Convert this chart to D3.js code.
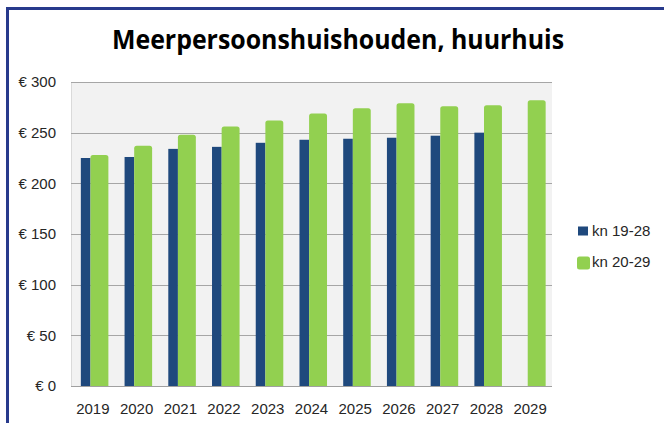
<!DOCTYPE html>
<html lang="nl">
<head>
    <meta charset="UTF-8">
    <title>Meerpersoonshuishouden, huurhuis</title>
    <script src="https://d3js.org/d3.v7.min.js"></script>
    <style>
        body { margin: 0; background: #fff; }
        svg { display: block; }
    </style>
</head>
<body>
    <div id="chart"></div>

    <script>
        const years = ["2019", "2020", "2021", "2022", "2023", "2024", "2025", "2026", "2027", "2028", "2029"];
        const kn1928 = [225, 226, 234, 236, 240, 243, 244, 245, 247, 250, null];
        const kn2029 = [228, 237, 248, 256, 262, 269, 274, 279, 276, 277, 282];
        const yTicks = [0, 50, 100, 150, 200, 250, 300];
        const seriesNames = ["kn 19-28", "kn 20-29"];

        const width = 664, height = 423;
        const plot = { left: 71, right: 552, top: 82, bottom: 386 };

        const svg = d3.select("#chart").append("svg")
            .attr("width", width)
            .attr("height", height)
            .style("font-family", "'Liberation Sans', Arial, sans-serif");

        // outer frame (left + top only visible)
        svg.append("path")
            .attr("d", `M7.5,${height} V8.5 H${width}`)
            .attr("fill", "none")
            .attr("stroke", "#283A8C")
            .attr("stroke-width", 3);

        svg.append("text")
            .attr("x", 338)
            .attr("y", 49)
            .attr("text-anchor", "middle")
            .attr("textLength", 452)
            .attr("lengthAdjust", "spacingAndGlyphs")
            .style("font-family", "'Open Sans', sans-serif")
            .style("font-weight", "bold")
            .style("font-size", "26px")
            .attr("fill", "#000")
            .text("Meerpersoonshuishouden, huurhuis");

        const x = d3.scaleBand()
            .domain(years)
            .range([plot.left, plot.right])
            .padding(0);

        const y = d3.scaleLinear()
            .domain([0, 300])
            .range([plot.bottom, plot.top]);

        svg.append("rect")
            .attr("x", plot.left)
            .attr("y", plot.top)
            .attr("width", plot.right - plot.left)
            .attr("height", plot.bottom - plot.top)
            .attr("fill", "#F2F2F2");

        svg.append("line")
            .attr("x1", plot.left + 0.5).attr("x2", plot.left + 0.5)
            .attr("y1", plot.top).attr("y2", plot.bottom)
            .attr("stroke", "#DADADA");

        // gridlines
        svg.append("g")
            .selectAll("line")
            .data(yTicks.filter(d => d > 0))
            .join("line")
            .attr("x1", plot.left)
            .attr("x2", plot.right)
            .attr("y1", d => Math.round(y(d)) + 0.5)
            .attr("y2", d => Math.round(y(d)) + 0.5)
            .attr("stroke", "#A6A6A6");

        const bw = x.bandwidth();

        // dark bars
        svg.append("g")
            .selectAll("rect")
            .data(years.map((yr, i) => ({ yr, v: kn1928[i] })).filter(d => d.v != null))
            .join("rect")
            .attr("x", d => x(d.yr) + bw * 0.225)
            .attr("width", bw * 0.22)
            .attr("y", d => y(d.v))
            .attr("height", d => y(0) - y(d.v))
            .attr("fill", "#1F497D");

        // green bars, slightly rounded top
        const r = 2.5;
        svg.append("g")
            .selectAll("path")
            .data(years.map((yr, i) => ({ yr, v: kn2029[i] })))
            .join("path")
            .attr("d", d => {
                const x0 = x(d.yr) + bw * 0.445, x1 = x(d.yr) + bw * 0.855;
                const y0 = y(d.v), y1 = y(0);
                return `M${x0},${y1} V${y0 + r} Q${x0},${y0} ${x0 + r},${y0} H${x1 - r} Q${x1},${y0} ${x1},${y0 + r} V${y1} Z`;
            })
            .attr("fill", "#92D050");

        // x axis line
        svg.append("line")
            .attr("x1", plot.left).attr("x2", plot.right)
            .attr("y1", plot.bottom + 0.5).attr("y2", plot.bottom + 0.5)
            .attr("stroke", "#A0A0A0");

        // y labels
        svg.append("g")
            .selectAll("text")
            .data(yTicks)
            .join("text")
            .attr("x", 56)
            .attr("y", d => y(d))
            .attr("dy", "0.35em")
            .attr("text-anchor", "end")
            .style("font-size", "15px")
            .attr("fill", "#262626")
            .text(d => `€ ${d}`);

        // x labels
        svg.append("g")
            .selectAll("text")
            .data(years)
            .join("text")
            .attr("x", d => x(d) + bw / 2)
            .attr("y", 414)
            .attr("text-anchor", "middle")
            .style("font-size", "15px")
            .attr("fill", "#262626")
            .text(d => d);

        // legend
        const legend = svg.append("g");
        legend.append("rect")
            .attr("x", 578).attr("y", 226.5)
            .attr("width", 10).attr("height", 9)
            .attr("fill", "#1F497D");
        legend.append("rect")
            .attr("x", 577).attr("y", 256.5)
            .attr("width", 13).attr("height", 13)
            .attr("rx", 2.5)
            .attr("fill", "#92D050");
        legend.selectAll("text")
            .data(seriesNames)
            .join("text")
            .attr("x", 592)
            .attr("y", (d, i) => 236 + i * 31)
            .style("font-size", "15px")
            .attr("fill", "#262626")
            .text(d => d);
    </script>
</body>
</html>
